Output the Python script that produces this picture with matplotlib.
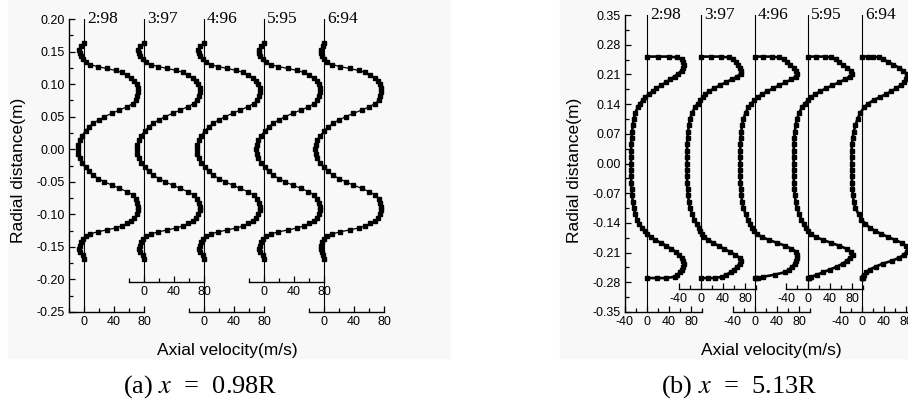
import numpy as np
import matplotlib.pyplot as plt
from matplotlib.patches import Rectangle
from matplotlib.ticker import MultipleLocator

plt.rcParams['font.family'] = 'Liberation Sans'
plt.rcParams['axes.unicode_minus'] = False
plt.rcParams['mathtext.fontset'] = 'stix'

# ---- data: panel (a) x = 0.98R ----
ratios = ['2:98', '3:97', '4:96', '5:95', '6:94']

y_a = [0.163, 0.158, 0.153, 0.148, 0.143, 0.138, 0.134, 0.130, 0.127, 0.124,
       0.121, 0.118, 0.114, 0.110, 0.105, 0.100, 0.094, 0.088, 0.082, 0.076,
       0.070, 0.065, 0.060, 0.055, 0.050, 0.045, 0.040, 0.034, 0.028, 0.021,
       0.014, 0.007, 0.000,
       -0.007, -0.014, -0.021, -0.028, -0.034, -0.040, -0.045, -0.050, -0.055, -0.060,
       -0.065, -0.070, -0.076, -0.082, -0.088, -0.094, -0.100, -0.105, -0.110, -0.114,
       -0.118, -0.121, -0.124, -0.127, -0.130, -0.134, -0.138, -0.143, -0.148, -0.153,
       -0.158, -0.163, -0.168]

u_a_298 = [0, -4, -7, -6, -4, -1, 2, 8, 18, 30, 42, 50, 57, 63, 67, 70, 72, 72, 71, 69,
           65, 57, 47, 37, 27, 20, 12, 6, 2, -3, -6, -8, -8.5,
           -8, -6, -3, 2, 6, 12, 19, 27, 37, 47, 57, 65, 69, 71, 72, 72, 70, 67, 63, 57,
           50, 42, 30, 18, 8, 2, -1, -4, -6, -7, -5, -2, 0]
u_a_397 = [0, -5, -8, -7, -5, -1, 3, 9, 19, 31, 43, 52, 59, 65, 69, 72, 74, 74, 73, 70,
           66, 58, 48, 38, 28, 20, 12, 6, 1, -4, -7, -9, -9.5,
           -9, -7, -4, 1, 6, 12, 20, 28, 38, 48, 58, 66, 70, 73, 74, 74, 72, 69, 65, 59,
           52, 43, 31, 19, 9, 3, -1, -4, -6, -7, -5, -2, 0]
u_a_496 = [0, -5, -8, -7, -5, -1, 3, 9, 19, 31, 43, 52, 59, 65, 69, 72, 74, 74, 73, 71,
           66, 58, 48, 38, 28, 20, 12, 6, 1, -4, -7, -9, -10,
           -9, -7, -4, 1, 6, 12, 20, 28, 38, 48, 58, 66, 71, 73, 74, 74, 72, 69, 65, 59,
           52, 43, 31, 19, 9, 3, -1, -4, -6, -7, -5, -2, 0]
u_a_595 = [0, -4, -7, -7, -5, -1, 3, 9, 19, 32, 44, 53, 60, 66, 70, 73, 74, 74, 73, 71,
           67, 59, 49, 38, 28, 20, 12, 6, 1, -4, -8, -10, -10.5,
           -10, -8, -4, 1, 6, 12, 20, 28, 38, 49, 59, 67, 71, 73, 74, 74, 73, 70, 66, 60,
           53, 44, 32, 19, 9, 3, -1, -4, -6, -7, -5, -2, 0]
u_a_694 = [0, -2, -4, -4, -3, 0, 4, 11, 21, 34, 46, 55, 62, 68, 72, 75, 76, 76, 75, 73,
           68, 60, 50, 39, 29, 20, 12, 5, 0, -5, -9, -11, -11.5,
           -11, -9, -5, 0, 5, 12, 20, 29, 39, 50, 60, 68, 73, 75, 76, 76, 75, 72, 68, 62,
           55, 46, 34, 21, 11, 4, 0, -3, -4, -4, -3, -1, 0]

# ---- data: panel (b) x = 5.13R ----
y_b = [0.252, 0.252, 0.252, 0.250, 0.246, 0.240, 0.233, 0.226, 0.219, 0.212,
       0.205, 0.198, 0.191, 0.184, 0.177, 0.170, 0.163, 0.156, 0.149, 0.141,
       0.132, 0.120, 0.105, 0.090, 0.075, 0.060, 0.045, 0.030, 0.015, 0.000,
       -0.015, -0.030, -0.045, -0.060, -0.075, -0.090, -0.105, -0.120, -0.132, -0.142,
       -0.151, -0.159, -0.166, -0.173, -0.180, -0.187, -0.194, -0.201, -0.208, -0.215,
       -0.222, -0.229, -0.236, -0.243, -0.250, -0.256, -0.262, -0.267, -0.270, -0.270,
       -0.270]

u_b_298 = [0, 20, 40, 55, 63, 66, 67, 66, 63, 57, 50, 42, 34, 26, 17, 10, 3, -3, -8, -13,
           -17, -21, -24, -26, -27, -28, -28.5, -29, -29, -29, -29, -29, -28.5, -28, -27,
           -26, -24, -21, -18, -14, -9, -4, 0, 7, 15, 25, 35, 44, 52, 58, 63, 66, 67, 66,
           63, 60, 55, 50, 35, 18, 0]
u_b_397 = [0, 18, 36, 50, 58, 63, 67, 71, 73, 72, 66, 56, 45, 34, 24, 15, 8, 3, -1, -6,
           -11, -16, -20, -22, -23.5, -24.5, -25, -25.5, -25.5, -25.5, -25.5, -25.5, -25,
           -24.5, -23.5, -22, -20, -16, -12, -8, -4, -1, 1, 6, 13, 22, 32, 42, 52, 62, 70,
           72, 70, 66, 60, 54, 46, 38, 25, 12, 0]
u_b_496 = [0, 15, 30, 43, 52, 58, 64, 70, 75, 77, 74, 66, 55, 44, 33, 22, 13, 5, -1, -7,
           -12, -17, -21, -23.5, -25, -26, -26.5, -27, -27, -27, -27, -27, -26.5, -26, -25,
           -23.5, -21, -17, -13, -9, -5, -1, 3, 12, 25, 40, 55, 66, 75, 77, 76, 75, 73, 67,
           62, 55, 36, 15, 5, 2, 0]
u_b_595 = [0, 15, 30, 42, 50, 56, 63, 71, 78, 80, 76, 67, 56, 44, 33, 22, 13, 6, 0, -6,
           -11, -16, -20, -22.5, -24, -25, -25.5, -26, -26, -26, -26, -26, -25.5, -25, -24,
           -22.5, -20, -16, -12, -8, -4, 0, 5, 14, 27, 42, 57, 70, 78, 81, 76, 71, 63, 53,
           40, 28, 17, 6, 2, 1, 0]
u_b_694 = [0, 10, 20, 31, 38, 47, 57, 67, 75, 81, 82, 80, 76, 70, 62, 53, 43, 32, 21, 11,
           4, -3, -8, -12, -15, -17, -18, -19, -19, -19, -19, -18.5, -18, -17.5, -16.5,
           -15, -12, -6, -1, 6, 14, 24, 35, 47, 60, 72, 80, 83, 81, 76, 68, 55, 38, 25, 14,
           8, 4, 2, 1, 0.5, 0]

yticks_a = [-0.25, -0.20, -0.15, -0.10, -0.05, 0.00, 0.05, 0.10, 0.15, 0.20]
yticks_b = [-0.35, -0.28, -0.21, -0.14, -0.07, 0.00, 0.07, 0.14, 0.21, 0.28, 0.35]

W, H = 908, 405
fig = plt.figure(figsize=(W / 100, H / 100), dpi=100)


def px(x0, y0, x1, y1):
    return [x0 / W, 1 - y1 / H, (x1 - x0) / W, (y1 - y0) / H]


# faint grey backing of the two pasted graphs
fig.add_artist(Rectangle((8 / W, 1 - 358 / H), 442 / W, 358 / H,
                         transform=fig.transFigure, color='#f8f8f8', zorder=0))
fig.add_artist(Rectangle((560 / W, 1 - 358 / H), 348 / W, 358 / H,
                         transform=fig.transFigure, color='#f8f8f8', zorder=0))


def panel(zeros, scale, xlim, y, profiles, yticks, yminor, top, bot, raised, lw, ms):
    for k, (u, lab) in enumerate(zip(profiles, ratios)):
        x0 = zeros[k] + xlim[0] * scale
        x1 = zeros[k] + xlim[1] * scale
        ax = fig.add_axes(px(x0, top, x1, bot))
        ax.patch.set_alpha(0)
        ax.set_xlim(xlim)
        ax.set_ylim(yticks[0], yticks[-1])
        ax.spines['top'].set_visible(False)
        ax.spines['right'].set_visible(False)
        for s in ax.spines.values():
            s.set_linewidth(1.0)
        ax.xaxis.set_major_locator(MultipleLocator(40))
        ax.xaxis.set_minor_locator(MultipleLocator(20))
        ax.tick_params(which='both', direction='in', width=0.9, labelsize=9, pad=3)
        ax.tick_params(which='major', length=4.5)
        ax.tick_params(which='minor', length=3)
        if k == 0:
            ax.set_yticks(yticks)
            ax.set_yticklabels(['%.2f' % t for t in yticks])
            ax.yaxis.set_minor_locator(MultipleLocator(yminor))
        else:
            ax.spines['left'].set_visible(False)
            ax.tick_params(which='both', left=False, labelleft=False)
        ybase = yticks[0]
        if k % 2 == 1:
            frac = (bot - raised) / (bot - top)
            ax.spines['bottom'].set_position(('axes', frac))
            ybase = yticks[0] + frac * (yticks[-1] - yticks[0])
        ax.plot([0, 0], [ybase, yticks[-1]], color='black', lw=0.8)
        ax.plot(u, y, '-s', color='black', ms=ms, lw=lw, clip_on=False)
        ax.annotate(lab, (0, yticks[-1]), xytext=(2, 0), textcoords='offset points',
                    ha='left', va='center', family='Liberation Serif', fontsize=12.5)


panel([84, 144, 204, 264, 324], 0.75, (-20, 80), y_a,
      [u_a_298, u_a_397, u_a_496, u_a_595, u_a_694],
      yticks_a, 0.025, 19, 312, 282, 0.9, 2.4)
panel([647, 701, 755, 808, 862], 0.55, (-40, 100), y_b,
      [u_b_298, u_b_397, u_b_496, u_b_595, u_b_694],
      yticks_b, 0.035, 15, 312, 289, 1.9, 2.6)

for cx in (227, 771):
    fig.text(cx / W, 1 - 351 / H, 'Axial velocity(m/s)', ha='center', va='center',
             fontsize=12.5)
for cx in (19, 574):
    fig.text(cx / W, 1 - 170 / H, 'Radial distance(m)', ha='center', va='center',
             rotation=90, fontsize=12.5)

fig.text(200 / W, 1 - 387 / H, '(a) $x$  =  0.98R', ha='center', va='center',
         family='Liberation Serif', fontsize=19)
fig.text(739 / W, 1 - 387 / H, '(b) $x$  =  5.13R', ha='center', va='center',
         family='Liberation Serif', fontsize=19)

fig.savefig('out.png', dpi=100)
